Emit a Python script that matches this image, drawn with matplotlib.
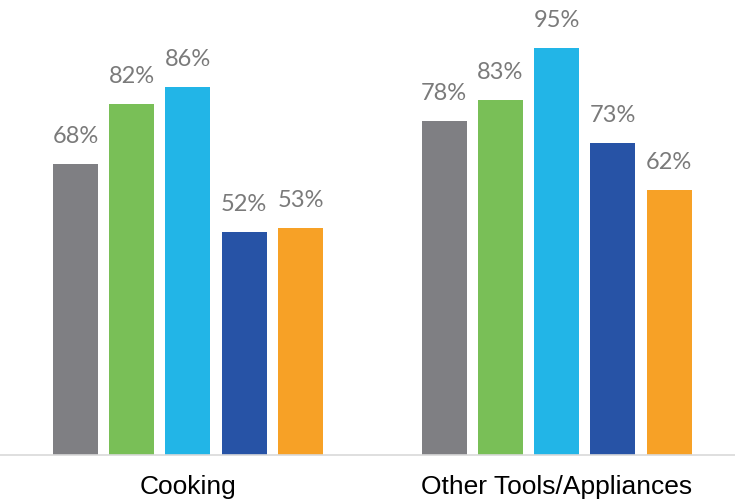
import matplotlib.pyplot as plt
import numpy as np

categories = ['Cooking', 'Other Tools/Appliances']
series = ['S1', 'S2', 'S3', 'S4', 'S5']
values = {
    'S1': [68, 78],
    'S2': [82, 83],
    'S3': [86, 95],
    'S4': [52, 73],
    'S5': [53, 62],
}
colors = ['#7f7f83', '#79bf57', '#22b5e7', '#2753a6', '#f7a126']

fig = plt.figure(figsize=(7.35, 5.04), dpi=100)
ax = fig.add_axes([0, 0.0972, 1, 0.9028])

group_centers = np.array([2.0, 8.55])
bar_w = 0.8

for j, (name, col) in enumerate(zip(series, colors)):
    xs = group_centers + (j - 2)
    bars = ax.bar(xs, values[name], bar_w, color=col)
    for b, v in zip(bars, values[name]):
        ax.text(b.get_x() + b.get_width() / 2, v + 4.9, f'{v}%',
                ha='center', va='baseline', fontsize=17, color='#7a7a7a',
                family='Lato')

ax.set_xlim(-1.34, 11.72)
ax.set_ylim(0, 106.3)

for s in ['top', 'right', 'left']:
    ax.spines[s].set_visible(False)
ax.spines['bottom'].set_color('#d9d9d9')
ax.spines['bottom'].set_linewidth(1.2)
ax.set_yticks([])
ax.set_xticks(group_centers)
ax.set_xticklabels(categories, fontsize=19, family='Liberation Sans', color='black')
ax.tick_params(axis='x', length=0, pad=14.5)

fig.savefig('out.png', dpi=100)
